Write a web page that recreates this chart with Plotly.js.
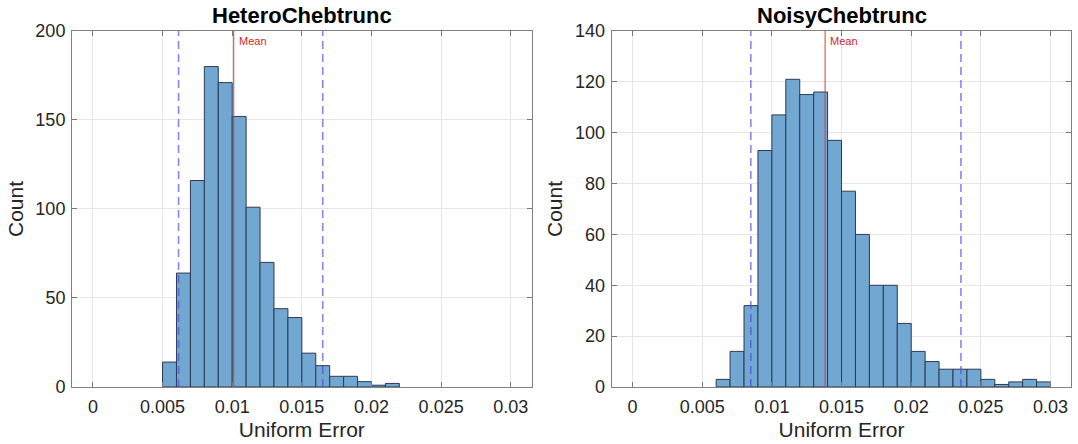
<!DOCTYPE html>
<html>
<head>
<meta charset="utf-8">
<script src="https://cdn.plot.ly/plotly-3.0.1.min.js"></script>
<style>html,body{margin:0;padding:0;background:#fff;}#chart{width:1078px;height:444px;}</style>
</head>
<body>
<div id="chart"></div>
<script>
// ---- data ----
const panelTitles = ["HeteroChebtrunc", "NoisyChebtrunc"];
const binWidth = 0.001;
const heteroBinStart = 0.005;
const heteroCounts = [14, 64, 116, 180, 171, 152, 101, 70, 44, 39, 19, 12, 6, 6, 3, 1, 2];
const noisyBinStart = 0.006;
const noisyCounts = [3, 14, 32, 93, 107, 121, 115, 116, 97, 77, 60, 40, 40, 25, 14, 10, 7, 7, 7, 3, 1, 2, 3, 2];
const meanVals = [0.01011, 0.01382];
const lowerVals = [0.00615, 0.00849];
const upperVals = [0.0165, 0.02357];
const xTickVals = [0, 0.005, 0.01, 0.015, 0.02, 0.025, 0.03];
const xTickText = ["0", "0.005", "0.01", "0.015", "0.02", "0.025", "0.03"];
const heteroYTicks = [0, 50, 100, 150, 200];
const noisyYTicks = [0, 20, 40, 60, 80, 100, 120, 140];

function centers(start, counts) {
  return counts.map((_, i) => start + (i + 0.5) * binWidth);
}

const barStyle = {
  color: 'rgb(114,167,210)',
  line: {color: 'rgb(45,58,82)', width: 1}
};

const traces = [
  {type: 'bar', x: centers(heteroBinStart, heteroCounts), y: heteroCounts,
   width: heteroCounts.map(() => binWidth), marker: barStyle, xaxis: 'x', yaxis: 'y',
   hoverinfo: 'x+y', showlegend: false},
  {type: 'bar', x: centers(noisyBinStart, noisyCounts), y: noisyCounts,
   width: noisyCounts.map(() => binWidth), marker: barStyle, xaxis: 'x2', yaxis: 'y2',
   hoverinfo: 'x+y', showlegend: false}
];

const font = 'Liberation Sans, Arial, Helvetica, sans-serif';

function xAxis(domain, anchor) {
  return {
    domain: domain, anchor: anchor, range: [-0.0015, 0.0315],
    tickvals: xTickVals, ticktext: xTickText,
    ticks: 'inside', ticklen: 5, tickcolor: '#777', mirror: 'ticks',
    showline: true, linecolor: '#808080', linewidth: 1,
    showgrid: true, gridcolor: 'rgb(230,230,230)', zeroline: false,
    tickfont: {family: font, size: 18, color: '#262626'},
    ticklabelstandoff: 3,
    title: {text: 'Uniform Error', font: {family: font, size: 21, color: '#262626'}, standoff: 6},
    fixedrange: true
  };
}
function yAxis(anchor, range, ticks) {
  return {
    domain: [0.1284, 0.9302], anchor: anchor, range: range,
    tickvals: ticks,
    ticks: 'inside', ticklen: 5, tickcolor: '#777', mirror: 'ticks',
    showline: true, linecolor: '#808080', linewidth: 1,
    showgrid: true, gridcolor: 'rgb(230,230,230)', zeroline: false,
    tickfont: {family: font, size: 18, color: '#262626'},
    ticklabelstandoff: 2,
    title: {text: 'Count', font: {family: font, size: 21, color: '#262626'}, standoff: 6},
    fixedrange: true
  };
}

const shapes = [];
const annotations = [];
const axNames = [['x', 'y'], ['x2', 'y2']];
const titleX = [0.2800, 0.7807];
for (let i = 0; i < 2; i++) {
  const [xa, ya] = axNames[i];
  shapes.push({type: 'line', xref: xa, yref: ya + ' domain', x0: lowerVals[i], x1: lowerVals[i], y0: 0, y1: 1,
    line: {color: 'rgba(70,70,225,0.65)', width: 1.6, dash: '8px,5px'}});
  shapes.push({type: 'line', xref: xa, yref: ya + ' domain', x0: upperVals[i], x1: upperVals[i], y0: 0, y1: 1,
    line: {color: 'rgba(70,70,225,0.65)', width: 1.6, dash: '8px,5px'}});
  shapes.push({type: 'line', xref: xa, yref: ya + ' domain', x0: meanVals[i], x1: meanVals[i], y0: 0, y1: 1,
    line: {color: 'rgb(220,60,60)', width: 1}});
  annotations.push({xref: xa, yref: ya + ' domain', x: meanVals[i], y: 0.995, xanchor: 'left', yanchor: 'top',
    xshift: 3, text: 'Mean', showarrow: false, font: {family: font, size: 11, color: 'rgb(210,40,40)'}});
  annotations.push({xref: 'paper', yref: 'paper', x: titleX[i], y: 0.9302, xanchor: 'center', yanchor: 'bottom',
    yshift: 1, text: '<b>' + panelTitles[i] + '</b>', showarrow: false,
    font: {family: font, size: 22, color: '#000'}});
}

const layout = {
  width: 1078, height: 444,
  margin: {l: 0, r: 0, t: 0, b: 0},
  paper_bgcolor: '#fff', plot_bgcolor: '#fff',
  bargap: 0,
  xaxis: xAxis([0.0668, 0.4932], 'y'),
  yaxis: yAxis('x', [0, 200], heteroYTicks),
  xaxis2: xAxis([0.5674, 0.9939], 'y2'),
  yaxis2: yAxis('x2', [0, 140], noisyYTicks),
  shapes: shapes,
  annotations: annotations,
  showlegend: false
};

Plotly.newPlot('chart', traces, layout, {displayModeBar: false, staticPlot: true});
</script>
</body>
</html>
